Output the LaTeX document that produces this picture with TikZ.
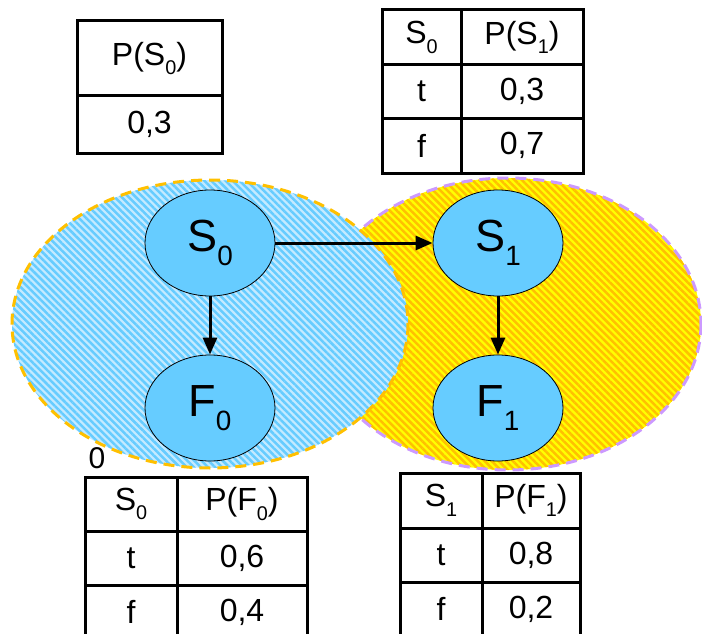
\documentclass[tikz,border=0pt]{standalone}
\usepackage{fontspec}
\setmainfont{Liberation Sans}
\usetikzlibrary{calc}
\usetikzlibrary{shapes.geometric,arrows.meta,patterns.meta}

\definecolor{nodeblue}{HTML}{66CCFF}
\definecolor{paleblue}{HTML}{C4EAFF}
\definecolor{hatchorange}{HTML}{FFC000}
\definecolor{hatchyellow}{HTML}{FFFF00}
\definecolor{dashpurple}{HTML}{CC99FF}

\newcommand{\lowidx}[1]{\raisebox{-0.3em}{\scalebox{0.62}{#1}}}

\begin{document}
\begin{tikzpicture}[x=1pt, y=-1pt, varnode/.style={ellipse, draw=black, line width=0.8pt, fill=nodeblue, minimum width=130pt, minimum height=106pt, inner sep=0pt, font=\fontsize{45}{54}\selectfont}, cpt/.style={draw=black, line width=3pt}, celltext/.style={font=\fontsize{32}{38}\selectfont, inner sep=0pt}, edge/.style={line width=3pt, -{Triangle[length=17pt,width=14pt]}}, hatch/.style={postaction={pattern={Lines[angle=-45,distance=5pt,line width=2.5pt]}, pattern color=#1}}]
			\useasboundingbox (0,0) rectangle (702,634);

			% time slices: slice 1 first, slice 0 lies on top of it
			\path[fill=hatchyellow, hatch=hatchorange] (508,324) ellipse [x radius=193, y radius=146];
			\draw[dashpurple, line width=3pt, dash pattern=on 11pt off 7pt] (508,324) ellipse [x radius=193, y radius=146];
			\path[fill=paleblue, hatch=nodeblue] (210,324) ellipse [x radius=198, y radius=144];
			\draw[hatchorange, line width=3pt, dash pattern=on 11pt off 7pt] (210,324) ellipse [x radius=198, y radius=144];
			\node[font=\fontsize{30}{36}\selectfont] (slice0) at (97,458) {0};

			\node[varnode] (S0) at (210,243) {S\lowidx{0}};
			\node[varnode] (F0) at ($(S0)+(0,165)$) {F\lowidx{0}};
			\node[varnode] (S1) at ($(S0)+(288,0)$) {S\lowidx{1}};
			\node[varnode] (F1) at ($(S1)+(0,165)$) {F\lowidx{1}};

			\draw[edge] (S0) -- (S1);
			\draw[edge] (S0) -- (F0);
			\draw[edge] (S1) -- (F1);

			% CPT of S0
			\draw[cpt] (77,21) rectangle (222,153);
			\draw[cpt] (77,96) -- (222,96);
			\node[celltext] (ps0) at (149.5,58.5) {P(S\lowidx{0})};
			\node[celltext] (ps0v) at (149.5,124.5) {0,3};

			% CPT of S1
			\draw[cpt] (382,10) rectangle (583,173);
			\draw[cpt] (461,10) -- (461,173);
			\draw[cpt] (382,65) -- (583,65);
			\draw[cpt] (382,118) -- (583,118);
			\node[celltext] (s1h) at (421.5,37.5) {S\lowidx{0}};
			\node[celltext] (ps1) at (522,37.5) {P(S\lowidx{1})};
			\node[celltext] (s1t) at (421.5,91.5) {t};
			\node[celltext] (ps1t) at (522,91.5) {0,3};
			\node[celltext] (s1f) at (421.5,145.5) {f};
			\node[celltext] (ps1f) at (522,145.5) {0,7};

			% CPT of F0
			\draw[cpt] (85,477) rectangle (307,640);
			\draw[cpt] (177,477) -- (177,640);
			\draw[cpt] (85,531) -- (307,531);
			\draw[cpt] (85,585) -- (307,585);
			\node[celltext] (f0h) at (131,504) {S\lowidx{0}};
			\node[celltext] (pf0) at (242,504) {P(F\lowidx{0})};
			\node[celltext] (f0t) at (131,558) {t};
			\node[celltext] (pf0t) at (242,558) {0,6};
			\node[celltext] (f0f) at (131,612) {f};
			\node[celltext] (pf0f) at (242,612) {0,4};

			% CPT of F1
			\draw[cpt] (400,473) rectangle (580,637);
			\draw[cpt] (482,473) -- (482,637);
			\draw[cpt] (400,528) -- (580,528);
			\draw[cpt] (400,582) -- (580,582);
			\node[celltext] (f1h) at (441,500.5) {S\lowidx{1}};
			\node[celltext] (pf1) at (531,500.5) {P(F\lowidx{1})};
			\node[celltext] (f1t) at (441,555) {t};
			\node[celltext] (pf1t) at (531,555) {0,8};
			\node[celltext] (f1f) at (441,609) {f};
			\node[celltext] (pf1f) at (531,609) {0,2};

		\end{tikzpicture}
\end{document}
